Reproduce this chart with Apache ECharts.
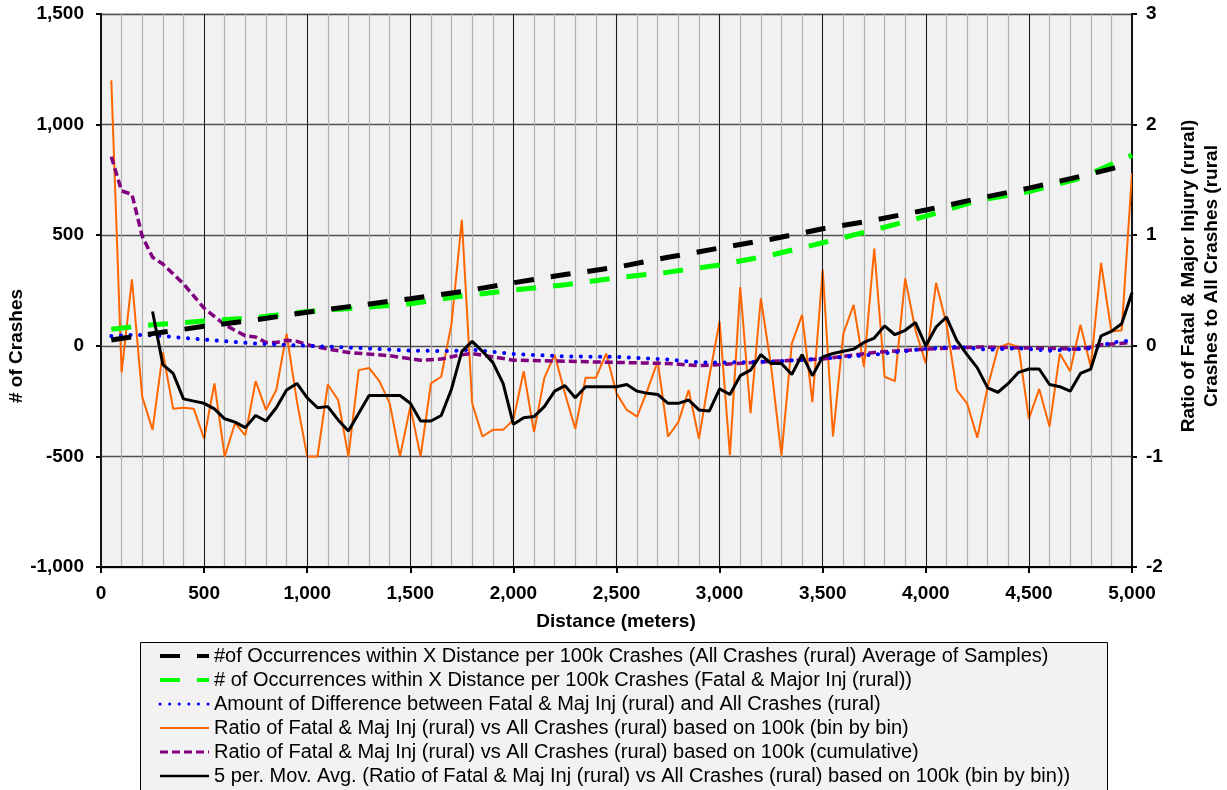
<!DOCTYPE html>
<html>
<head>
<meta charset="utf-8">
<script src="https://cdn.jsdelivr.net/npm/echarts@6/dist/echarts.min.js"></script>
<style>
html,body{margin:0;padding:0;background:#fff;}
#chart{width:1227px;height:790px;}
</style>
</head>
<body>
<div id="chart"></div>
<script>
// ---- data ----
const binDist = [50,100,150,200,250,300,350,400,450,500,550,600,650,700,750,800,850,900,950,1000,
1050,1100,1150,1200,1250,1300,1350,1400,1450,1500,1550,1600,1650,1700,1750,1800,1850,1900,1950,2000,
2050,2100,2150,2200,2250,2300,2350,2400,2450,2500,2550,2600,2650,2700,2750,2800,2850,2900,2950,3000,
3050,3100,3150,3200,3250,3300,3350,3400,3450,3500,3550,3600,3650,3700,3750,3800,3850,3900,3950,4000,
4050,4100,4150,4200,4250,4300,4350,4400,4450,4500,4550,4600,4650,4700,4750,4800,4850,4900,4950,5000];

// ratio bin by bin (right axis)
const ratioBin = [2.40,-0.24,0.60,-0.46,-0.76,-0.06,-0.57,-0.56,-0.57,-0.84,
-0.34,-1.00,-0.70,-0.81,-0.32,-0.58,-0.40,0.11,-0.50,-1.00,
-1.00,-0.35,-0.49,-1.00,-0.22,-0.20,-0.32,-0.52,-1.00,-0.55,
-1.00,-0.34,-0.28,0.20,1.14,-0.52,-0.82,-0.76,-0.76,-0.67,
-0.23,-0.78,-0.29,-0.08,-0.43,-0.75,-0.29,-0.29,-0.07,-0.43,
-0.58,-0.64,-0.40,-0.14,-0.82,-0.69,-0.40,-0.84,-0.28,0.22,
-0.99,0.53,-0.61,0.43,-0.19,-0.99,0.02,0.28,-0.51,0.69,
-0.82,0.11,0.37,-0.19,0.88,-0.28,-0.32,0.61,0.14,-0.16,
0.57,0.20,-0.40,-0.52,-0.83,-0.37,-0.02,0.02,-0.01,-0.66,
-0.39,-0.73,-0.07,-0.23,0.19,-0.19,0.75,0.13,0.14,1.56];

// 5 per. moving average (right axis)
const movAvg = [null,null,null,null,0.31,-0.17,-0.25,-0.48,-0.50,-0.52,
-0.57,-0.66,-0.69,-0.74,-0.63,-0.68,-0.56,-0.40,-0.34,-0.47,
-0.56,-0.55,-0.67,-0.77,-0.61,-0.45,-0.45,-0.45,-0.45,-0.52,
-0.68,-0.68,-0.63,-0.39,-0.05,0.04,-0.05,-0.15,-0.34,-0.71,
-0.65,-0.64,-0.55,-0.41,-0.36,-0.47,-0.37,-0.37,-0.37,-0.37,
-0.35,-0.41,-0.43,-0.44,-0.52,-0.52,-0.49,-0.58,-0.59,-0.39,
-0.44,-0.27,-0.22,-0.08,-0.16,-0.16,-0.26,-0.08,-0.27,-0.10,
-0.07,-0.05,-0.03,0.03,0.07,0.18,0.10,0.14,0.21,0.00,
0.17,0.26,0.05,-0.08,-0.20,-0.38,-0.42,-0.34,-0.24,-0.21,
-0.21,-0.35,-0.37,-0.41,-0.25,-0.21,0.09,0.13,0.20,0.48];

// occurrences per 100k crashes (left axis)
const allDist = [50,250,500,750,1000,1250,1500,1750,2000,2250,2500,2750,3000,3250,3500,3750,4000,4250,4500,4750,4950];
const allOcc  = [26,55,88,117,152,183,213,245,285,322,355,400,442,482,529,568,614,665,713,766,812];
const fatalDist = [50,250,500,750,1000,1250,1500,1750,2000,2250,2500,2750,3000,3250,3500,3750,4000,4250,4500,4750,5000];
const fatalOcc  = [75,95,112,128,155,172,190,225,252,276,307,333,365,410,466,524,586,656,697,758,862];

// amount of difference (left axis)
const diffDist = [50,150,250,500,750,1000,1250,1500,1700,1800,2000,2250,2500,2750,2900,3000,3250,3500,3750,4000,4150,4300,4450,4600,4800,4900,5000];
const diffVal  = [44,49,48,28,10,0,-10,-22,-24,-17,-37,-48,-50,-62,-75,-76,-72,-58,-40,-13,-5,-18,-11,-22,-12,14,25];

// cumulative ratio (right axis)
const cumDist = [50,100,150,200,250,300,400,500,600,700,750,800,850,900,950,1000,1100,1200,1400,1550,1650,1750,1800,2000,2250,2500,2750,2900,3000,3250,3500,3750,4000,4250,4500,4750,4850,5000];
const cumRatio = [1.71,1.40,1.37,0.99,0.80,0.74,0.56,0.34,0.19,0.09,0.08,0.03,0.03,0.05,0.04,0.01,-0.03,-0.06,-0.09,-0.13,-0.12,-0.08,-0.07,-0.13,-0.14,-0.15,-0.16,-0.18,-0.17,-0.14,-0.12,-0.06,-0.03,-0.01,-0.02,-0.03,0.01,0.03];

const names = [
 '#of Occurrences within X Distance per 100k Crashes (All Crashes (rural) Average of Samples)',
 '# of Occurrences within X Distance per 100k Crashes (Fatal & Major Inj (rural))',
 'Amount of Difference between Fatal & Maj Inj (rural) and All Crashes (rural)',
 'Ratio of Fatal & Maj Inj (rural) vs All Crashes (rural) based on 100k (bin by bin)',
 'Ratio of Fatal & Maj Inj (rural) vs All Crashes (rural) based on 100k (cumulative)',
 '5 per. Mov. Avg. (Ratio of Fatal & Maj Inj (rural) vs All Crashes (rural) based on 100k (bin by bin))'
];
const legendWidths = [4, 4, 3, 2, 3, 2.5];

const pairs = (xs, ys) => xs.map((x, i) => [x, ys[i]]);
const FONT = '"Liberation Sans", Arial, sans-serif';
const fmt = v => (v < 0 ? '-' : '') + Math.abs(v).toLocaleString('en-US');

const chart = echarts.init(document.getElementById('chart'), null, {renderer: 'canvas'});
chart.setOption({
  animation: false,
  backgroundColor: '#ffffff',
  grid: {left: 101, right: 95, top: 14, bottom: 223, show: true, backgroundColor: '#f1f1f1', borderColor: '#b4b4b4', borderWidth: 1},
  xAxis: [
    {type: 'value', min: 0, max: 5000, interval: 500, position: 'bottom',
     axisLine: {show: true, onZero: false, lineStyle: {color: '#000', width: 2}},
     axisTick: {show: true, length: 6, lineStyle: {color: '#000', width: 2}},
     axisLabel: {margin: 17, fontFamily: FONT, fontSize: 19, fontWeight: 'bold', color: '#000', formatter: fmt},
     splitLine: {show: true, lineStyle: {color: '#1a1a1a', width: 1}}, z: 3},
    {type: 'value', min: 0, max: 5000, interval: 100, position: 'bottom',
     axisLine: {show: false}, axisTick: {show: false}, axisLabel: {show: false},
     splitLine: {show: true, lineStyle: {color: '#b0b0b0', width: 1.2}}, z: 1}
  ],
  yAxis: [
    {type: 'value', min: -1000, max: 1500, interval: 500, position: 'left',
     axisLine: {show: true, onZero: false, lineStyle: {color: '#000', width: 2}},
     axisTick: {show: true, length: 5, lineStyle: {color: '#000', width: 2}},
     axisLabel: {margin: 17, fontFamily: FONT, fontSize: 19, fontWeight: 'bold', color: '#000', formatter: fmt},
     splitLine: {show: true, lineStyle: {color: '#505050', width: 1.3}}},
    {type: 'value', min: -2, max: 3, interval: 1, position: 'right',
     axisLine: {show: true, onZero: false, lineStyle: {color: '#000', width: 2}},
     axisTick: {show: true, length: 5, lineStyle: {color: '#000', width: 2}},
     axisLabel: {margin: 14, fontFamily: FONT, fontSize: 19, fontWeight: 'bold', color: '#000'},
     splitLine: {show: false}}
  ],
  legend: {
    orient: 'vertical', left: 158, top: 646, height: 144, padding: 0, itemGap: 4, itemWidth: 49, itemHeight: 15,
    data: names.map((n, i) => ({name: n, lineStyle: {width: legendWidths[i]}})),
    selectedMode: false,
    itemStyle: {opacity: 0},
    textStyle: {fontFamily: FONT, fontSize: 20, lineHeight: 20, color: '#000'}
  },
  graphic: [
    {type: 'rect', left: 140, top: 642, shape: {width: 967, height: 160},
     style: {fill: '#f2f2f2', stroke: '#000', lineWidth: 1}, z: -1, silent: true},
    {type: 'text', x: 17, y: 346, rotation: Math.PI / 2,
     style: {text: '# of Crashes', fontFamily: FONT, fontSize: 19, fontWeight: 'bold', fill: '#000',
             textAlign: 'center', textVerticalAlign: 'middle'}},
    {type: 'text', x: 1200, y: 276, rotation: Math.PI / 2,
     style: {text: 'Ratio of Fatal & Major Injury (rural)\nCrashes to All Crashes (rural', fontFamily: FONT, fontSize: 19,
             fontWeight: 'bold', fill: '#000', lineHeight: 23, textAlign: 'center', textVerticalAlign: 'middle'}},
    {type: 'text', x: 616, y: 622,
     style: {text: 'Distance (meters)', fontFamily: FONT, fontSize: 19, fontWeight: 'bold', fill: '#000',
             textAlign: 'center', textVerticalAlign: 'middle'}}
  ],
  series: [
    {name: names[3], type: 'line', xAxisIndex: 0, yAxisIndex: 1, data: pairs(binDist, ratioBin),
     symbol: 'none', lineStyle: {color: '#ff6600', width: 2}, itemStyle: {color: '#ff6600'}, z: 2},
    {name: names[4], type: 'line', xAxisIndex: 0, yAxisIndex: 1, data: pairs(cumDist, cumRatio),
     symbol: 'none', lineStyle: {color: '#800080', width: 3.5, type: [8, 4]}, itemStyle: {color: '#800080'}, z: 3},
    {name: names[2], type: 'line', xAxisIndex: 0, yAxisIndex: 0, data: pairs(diffDist, diffVal),
     symbol: 'none', lineStyle: {color: '#0000ff', width: 4, type: [0.1, 9.5], cap: 'round'}, itemStyle: {color: '#0000ff'}, z: 4},
    {name: names[1], type: 'line', xAxisIndex: 0, yAxisIndex: 0, data: pairs(fatalDist, fatalOcc),
     symbol: 'none', lineStyle: {color: '#00ff00', width: 5, type: [20, 17]}, itemStyle: {color: '#00ff00'}, z: 5},
    {name: names[0], type: 'line', xAxisIndex: 0, yAxisIndex: 0, data: pairs(allDist, allOcc),
     symbol: 'none', lineStyle: {color: '#000000', width: 5, type: [20, 17]}, itemStyle: {color: '#000000'}, z: 6},
    {name: names[5], type: 'line', xAxisIndex: 0, yAxisIndex: 1, data: pairs(binDist, movAvg),
     symbol: 'none', connectNulls: false, lineStyle: {color: '#000000', width: 3}, itemStyle: {color: '#000000'}, z: 7}
  ]
});
</script>
</body>
</html>
